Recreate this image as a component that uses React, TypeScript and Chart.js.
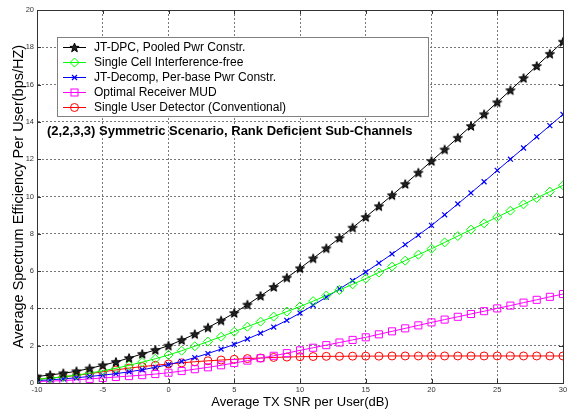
import React, { useEffect, useRef } from 'react';
import { Chart, registerables } from 'chart.js';
Chart.register(...registerables);

const snrDb = [-10, -9, -8, -7, -6, -5, -4, -3, -2, -1, 0, 1, 2, 3, 4, 5, 6, 7, 8, 9, 10, 11, 12, 13, 14, 15, 16, 17, 18, 19, 20, 21, 22, 23, 24, 25, 26, 27, 28, 29, 30];

const jtDpc = [0.35, 0.43, 0.52, 0.63, 0.78, 0.95, 1.13, 1.34, 1.56, 1.77, 2.0, 2.3, 2.62, 2.97, 3.35, 3.75, 4.2, 4.67, 5.15, 5.65, 6.15, 6.68, 7.22, 7.77, 8.33, 8.9, 9.48, 10.07, 10.67, 11.28, 11.9, 12.52, 13.15, 13.78, 14.41, 15.05, 15.7, 16.35, 17.0, 17.65, 18.3];

const singleCell = [0.2, 0.26, 0.33, 0.42, 0.53, 0.65, 0.79, 0.95, 1.12, 1.3, 1.5, 1.73, 1.97, 2.22, 2.48, 2.75, 3.02, 3.29, 3.56, 3.83, 4.1, 4.39, 4.69, 4.99, 5.29, 5.6, 5.92, 6.24, 6.56, 6.88, 7.2, 7.54, 7.88, 8.22, 8.56, 8.9, 9.24, 9.58, 9.92, 10.26, 10.6];

const jtDecomp = [0.13, 0.17, 0.22, 0.28, 0.35, 0.42, 0.5, 0.6, 0.71, 0.84, 0.98, 1.16, 1.36, 1.58, 1.82, 2.07, 2.36, 2.67, 3.0, 3.36, 3.75, 4.17, 4.6, 5.04, 5.49, 5.95, 6.43, 6.92, 7.42, 7.93, 8.45, 9.02, 9.6, 10.19, 10.79, 11.4, 12.0, 12.6, 13.2, 13.8, 14.4];

const optimalMud = [0.08, 0.1, 0.13, 0.17, 0.22, 0.27, 0.32, 0.37, 0.42, 0.48, 0.55, 0.64, 0.74, 0.84, 0.95, 1.07, 1.2, 1.33, 1.46, 1.6, 1.75, 1.89, 2.03, 2.17, 2.31, 2.45, 2.61, 2.77, 2.93, 3.09, 3.25, 3.4, 3.55, 3.7, 3.85, 4.0, 4.15, 4.31, 4.46, 4.62, 4.77];

const singleUser = [0.2, 0.26, 0.33, 0.41, 0.5, 0.6, 0.7, 0.8, 0.88, 0.95, 1.02, 1.08, 1.14, 1.19, 1.23, 1.27, 1.31, 1.34, 1.37, 1.39, 1.41, 1.42, 1.43, 1.43, 1.44, 1.44, 1.44, 1.45, 1.45, 1.45, 1.45, 1.45, 1.45, 1.45, 1.45, 1.45, 1.45, 1.45, 1.45, 1.45, 1.45];

const seriesNames = [
  'JT-DPC, Pooled Pwr Constr.',
  'Single Cell Interference-free',
  'JT-Decomp, Per-base Pwr Constr.',
  'Optimal Receiver MUD',
  'Single User Detector (Conventional)',
];
const xTicks = [-10, -5, 0, 5, 10, 15, 20, 25, 30];
const yTicks = [0, 2, 4, 6, 8, 10, 12, 14, 16, 18, 20];
const annotation = '(2,2,3,3) Symmetric Scenario, Rank Deficient Sub-Channels';
const xTitle = 'Average TX SNR per User(dB)';
const yTitle = 'Average Spectrum Efficiency Per User(bps/HZ)';

const FONT = '"Liberation Sans", Arial, sans-serif';

function starPath(ctx: CanvasRenderingContext2D, cx: number, cy: number, ro: number, ri: number) {
  ctx.beginPath();
  for (let i = 0; i < 10; i++) {
    const r = i % 2 === 0 ? ro : ri;
    const a = -Math.PI / 2 + (i * Math.PI) / 5;
    const px = cx + r * Math.cos(a);
    const py = cy + r * Math.sin(a);
    if (i === 0) ctx.moveTo(px, py);
    else ctx.lineTo(px, py);
  }
  ctx.closePath();
}

function makeStar(): HTMLCanvasElement {
  const c = document.createElement('canvas');
  c.width = 12;
  c.height = 12;
  const ctx = c.getContext('2d')!;
  starPath(ctx, 6, 6.4, 4.8, 2.0);
  ctx.fillStyle = '#222';
  ctx.fill();
  ctx.strokeStyle = '#000';
  ctx.lineWidth = 1;
  ctx.stroke();
  return c;
}

function drawMarker(ctx: CanvasRenderingContext2D, kind: number, x: number, y: number, color: string) {
  ctx.save();
  ctx.strokeStyle = color;
  ctx.fillStyle = color;
  ctx.lineWidth = 1;
  if (kind === 0) {
    starPath(ctx, x, y + 0.4, 4.8, 2.0);
    ctx.fillStyle = '#222';
    ctx.fill();
    ctx.stroke();
  } else if (kind === 1) {
    ctx.beginPath();
    ctx.moveTo(x, y - 4.5);
    ctx.lineTo(x + 4.5, y);
    ctx.lineTo(x, y + 4.5);
    ctx.lineTo(x - 4.5, y);
    ctx.closePath();
    ctx.stroke();
  } else if (kind === 2) {
    ctx.lineWidth = 1.2;
    ctx.beginPath();
    ctx.moveTo(x - 2.5, y - 2.5);
    ctx.lineTo(x + 2.5, y + 2.5);
    ctx.moveTo(x + 2.5, y - 2.5);
    ctx.lineTo(x - 2.5, y + 2.5);
    ctx.stroke();
  } else if (kind === 3) {
    ctx.strokeRect(x - 3.5, y - 3.5, 7, 7);
  } else {
    ctx.beginPath();
    ctx.arc(x, y, 4, 0, Math.PI * 2);
    ctx.stroke();
  }
  ctx.restore();
}

const colors = ['#000000', '#00ff00', '#0000ff', '#ff00ff', '#ff0000'];

const overlayPlugin = {
  id: 'overlay',
  afterDraw(chart: any) {
    const ctx: CanvasRenderingContext2D = chart.ctx;
    const a = chart.chartArea;
    ctx.save();
    ctx.strokeStyle = '#333';
    ctx.lineWidth = 1;
    ctx.strokeRect(Math.round(a.left) + 0.5, Math.round(a.top) + 0.5, Math.round(a.right - a.left), Math.round(a.bottom - a.top));
    const xs = chart.scales.x;
    const ys = chart.scales.y;
    ctx.beginPath();
    xTicks.forEach((t) => {
      const px = Math.round(xs.getPixelForValue(t)) + 0.5;
      ctx.moveTo(px, a.bottom);
      ctx.lineTo(px, a.bottom - 4);
      ctx.moveTo(px, a.top);
      ctx.lineTo(px, a.top + 4);
    });
    yTicks.forEach((t) => {
      const py = Math.round(ys.getPixelForValue(t)) + 0.5;
      ctx.moveTo(a.left, py);
      ctx.lineTo(a.left + 4, py);
      ctx.moveTo(a.right, py);
      ctx.lineTo(a.right - 4, py);
    });
    ctx.stroke();

    const lx = 57, ly = 37, lw = 371, lh = 79;
    ctx.fillStyle = '#fff';
    ctx.fillRect(lx, ly, lw, lh);
    ctx.strokeStyle = '#808080';
    ctx.strokeRect(lx + 0.5, ly + 0.5, lw, lh);
    ctx.font = `12px ${FONT}`;
    ctx.textBaseline = 'middle';
    ctx.textAlign = 'left';
    seriesNames.forEach((name, i) => {
      const y = 47 + i * 15;
      ctx.strokeStyle = colors[i];
      ctx.lineWidth = 1;
      ctx.beginPath();
      ctx.moveTo(63, y + 0.5);
      ctx.lineTo(86, y + 0.5);
      ctx.stroke();
      drawMarker(ctx, i, 74.5, y + 0.5, colors[i]);
      ctx.fillStyle = '#000';
      ctx.fillText(name, 94, y + 1);
    });

    ctx.font = `bold 13px ${FONT}`;
    ctx.fillStyle = '#000';
    ctx.fillText(annotation, 47, 131);
    ctx.restore();
  },
};

export default function App() {
  const ref = useRef<HTMLCanvasElement>(null);
  useEffect(() => {
    const star = makeStar();
    const mk = (data: number[]) => snrDb.map((x, i) => ({ x, y: data[i] }));
    const chart = new Chart(ref.current!, {
      type: 'line',
      data: {
        datasets: [
          { label: seriesNames[0], data: mk(jtDpc), borderColor: colors[0], backgroundColor: colors[0], borderWidth: 1, pointStyle: star as any, pointRadius: 5 },
          { label: seriesNames[1], data: mk(singleCell), borderColor: colors[1], backgroundColor: 'transparent', borderWidth: 1, pointStyle: 'rectRot', pointRadius: 4.5, pointBorderWidth: 1 },
          { label: seriesNames[2], data: mk(jtDecomp), borderColor: colors[2], backgroundColor: 'transparent', borderWidth: 1, pointStyle: 'crossRot', pointRadius: 3.5, pointBorderWidth: 1.2 },
          { label: seriesNames[3], data: mk(optimalMud), borderColor: colors[3], backgroundColor: 'transparent', borderWidth: 1, pointStyle: 'rect', pointRadius: 5, pointBorderWidth: 1 },
          { label: seriesNames[4], data: mk(singleUser), borderColor: colors[4], backgroundColor: 'transparent', borderWidth: 1, pointStyle: 'circle', pointRadius: 4, pointBorderWidth: 1 },
        ],
      },
      options: {
        animation: false,
        responsive: false,
        devicePixelRatio: 1,
        layout: { padding: { left: 0, right: 10, top: 10, bottom: 0 } },
        plugins: { legend: { display: false }, tooltip: { enabled: false } },
        elements: { line: { tension: 0 } },
        scales: {
          x: {
            type: 'linear',
            min: -10,
            max: 30,
            afterBuildTicks: (s: any) => { s.ticks = xTicks.map((v) => ({ value: v })); },
            afterFit: (s: any) => { s.height = 27; },
            grid: { color: '#777', drawTicks: false, lineWidth: 1 },
            border: { display: true, color: '#333', dash: [2, 2] },
            ticks: { font: { family: FONT, size: 7.5 }, color: '#333', padding: 2, maxRotation: 0 },
            title: { display: true, text: xTitle, font: { family: FONT, size: 13 }, color: '#000', padding: 0 },
          },
          y: {
            type: 'linear',
            min: 0,
            max: 20,
            afterBuildTicks: (s: any) => { s.ticks = yTicks.map((v) => ({ value: v })); },
            afterFit: (s: any) => { s.width = 37; },
            grid: { color: '#777', drawTicks: false, lineWidth: 1 },
            border: { display: true, color: '#333', dash: [2, 2] },
            ticks: { font: { family: FONT, size: 7.5 }, color: '#333', padding: 3 },
            title: { display: true, text: yTitle, font: { family: FONT, size: 14.5 }, color: '#000', padding: { top: 10, bottom: 0 } },
          },
        },
      },
      plugins: [overlayPlugin],
    });
    return () => chart.destroy();
  }, []);
  return (
    <div style={{ position: 'fixed', left: 0, top: 0, width: 573, height: 410, background: '#fff' }}>
      <canvas ref={ref} width={573} height={410} style={{ display: 'block', width: 573, height: 410 }} />
    </div>
  );
}
